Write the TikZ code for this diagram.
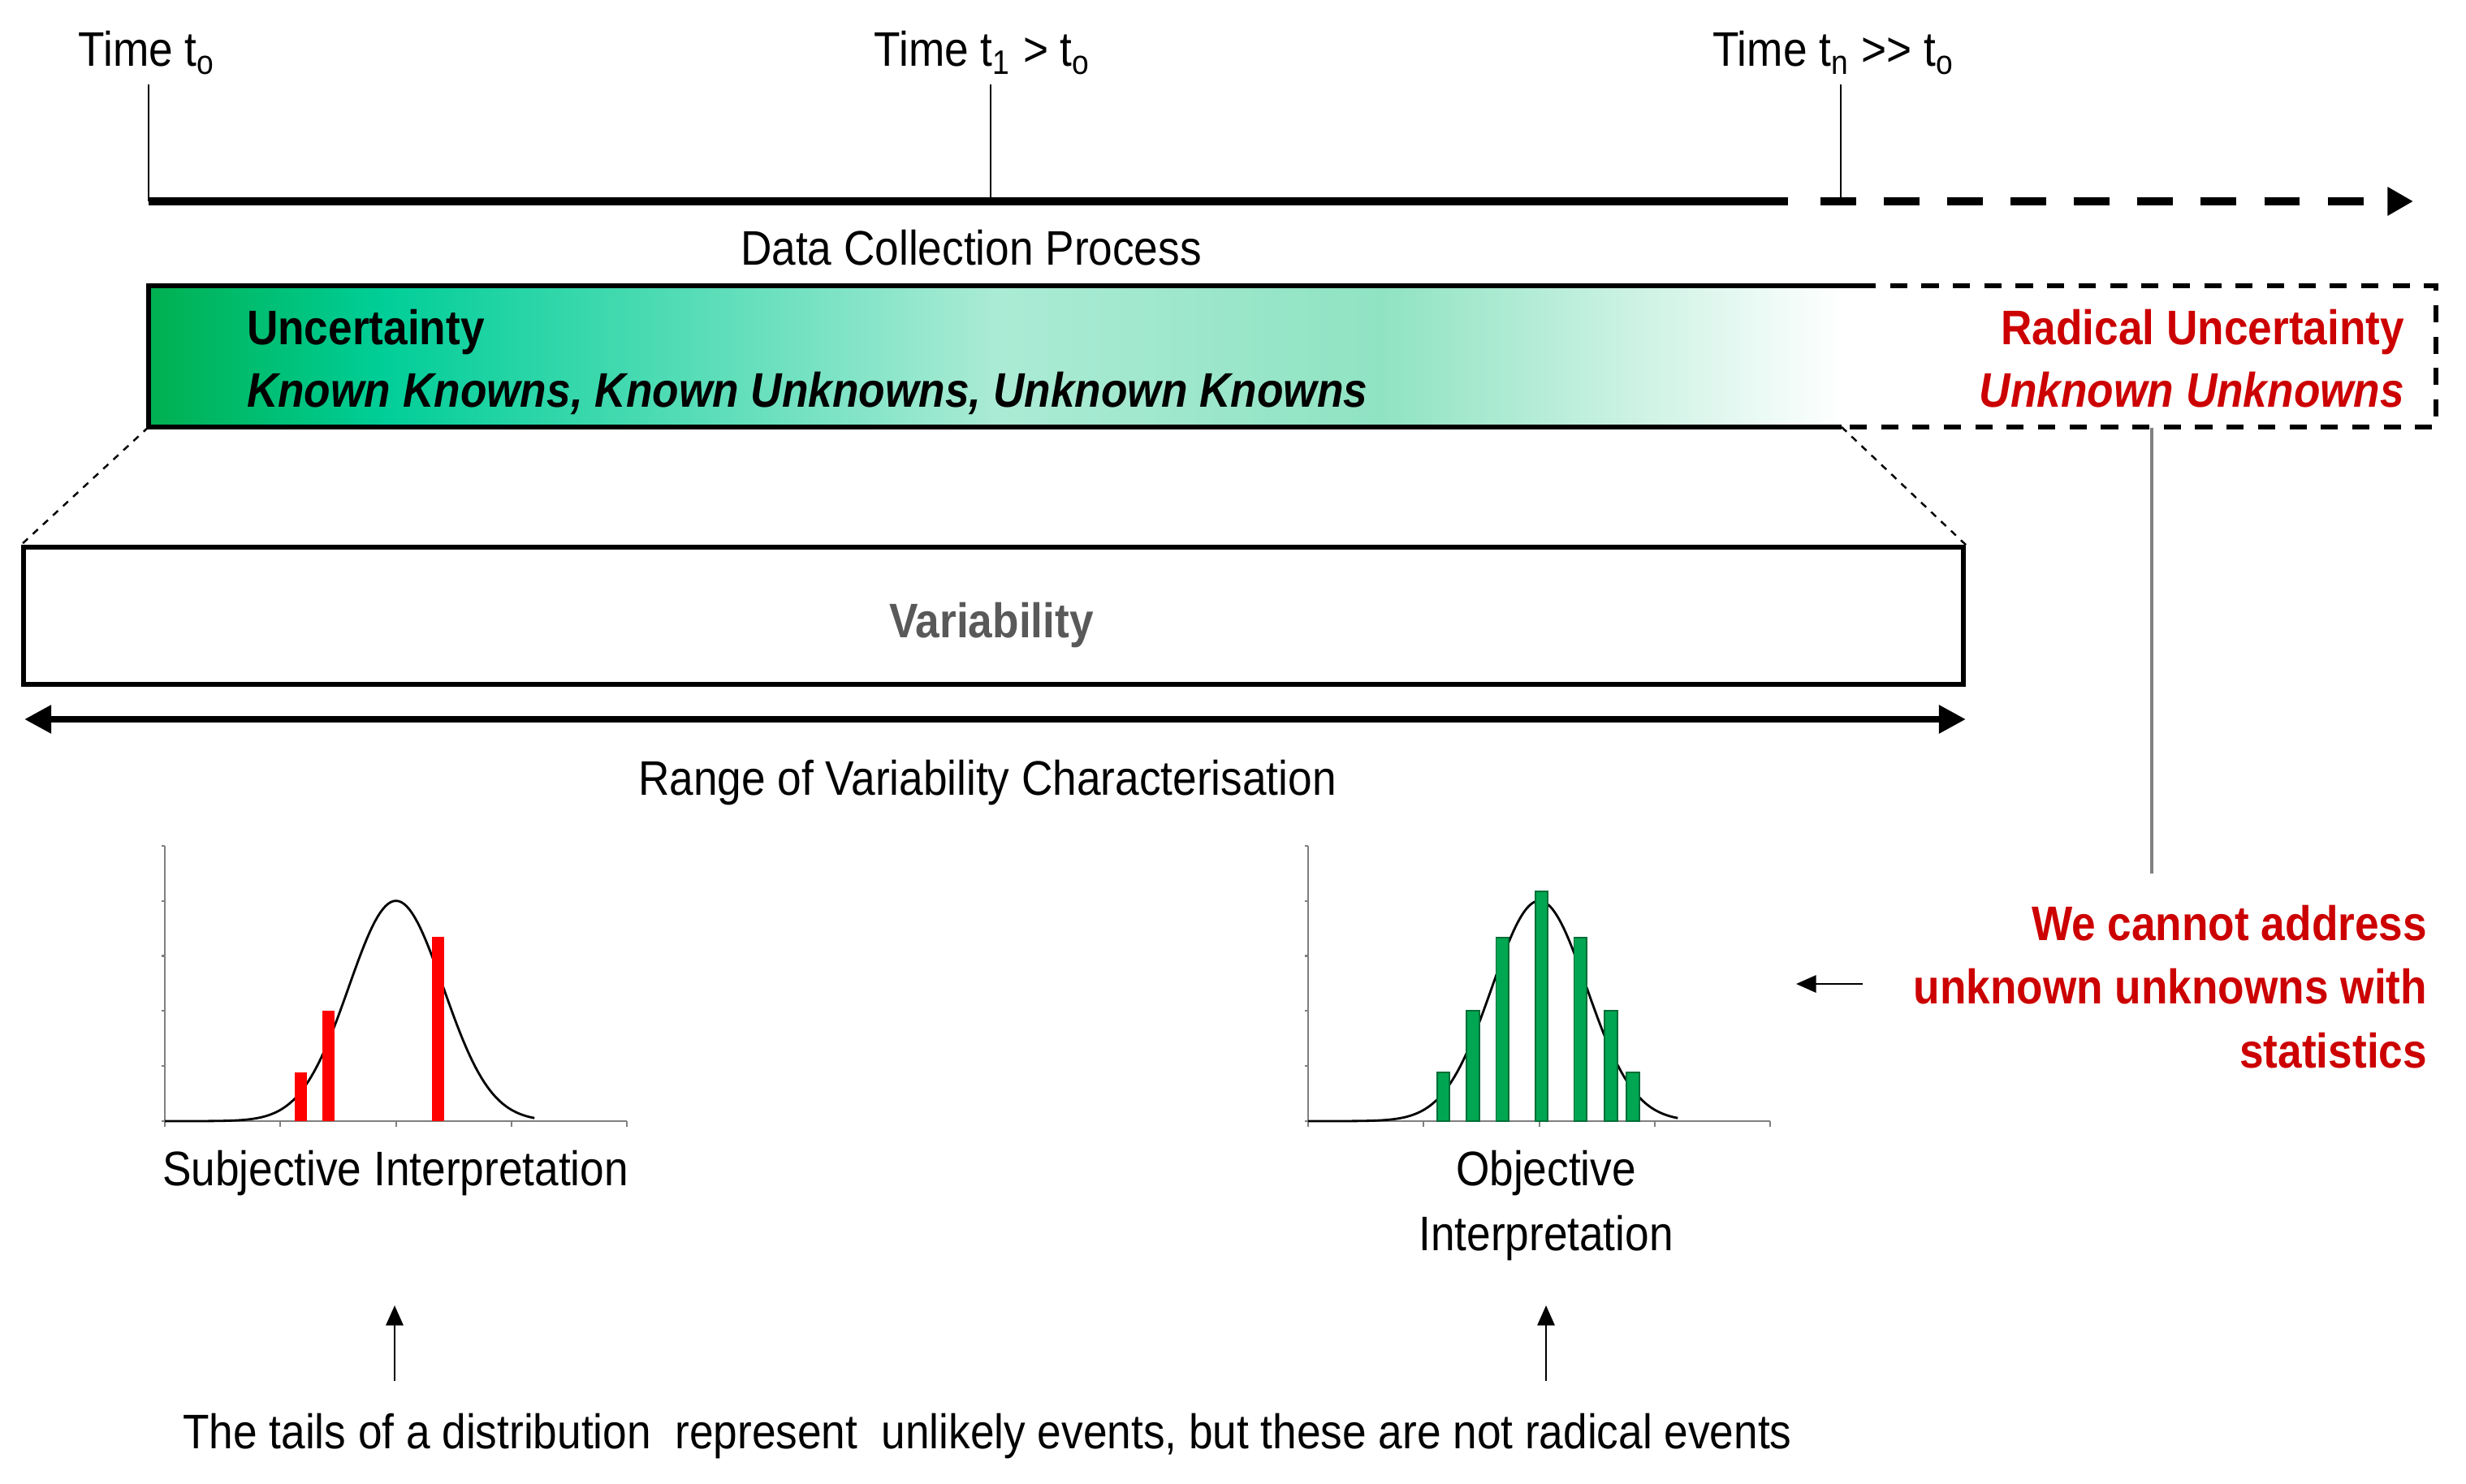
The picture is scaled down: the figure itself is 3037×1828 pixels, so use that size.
\documentclass[tikz,border=0pt]{standalone}
\usepackage{fontspec}
\setmainfont{Liberation Sans}[FakeStretch=0.89]
\usetikzlibrary{arrows.meta}
\definecolor{redtxt}{RGB}{204,0,0}
\definecolor{gA}{RGB}{0,176,80}
\definecolor{gB}{RGB}{0,206,152}
\definecolor{gC}{RGB}{171,235,213}
\definecolor{gD}{RGB}{143,227,195}
\definecolor{barred}{RGB}{255,0,0}
\definecolor{bargreen}{RGB}{0,166,81}
\definecolor{bargreenline}{RGB}{0,110,55}
\definecolor{axisgray}{RGB}{128,128,128}
\definecolor{vargray}{RGB}{89,89,89}
\newcommand{\distaxes}{%
  \draw[axisgray, line width=0.8pt] (0,5) -- (0,0) -- (4,0);
  \foreach \k in {0,...,5} \draw[axisgray, line width=0.6pt] (0,\k) -- (-0.03,\k);
  \foreach \k in {0,...,4} \draw[axisgray, line width=0.6pt] (\k,0) -- (\k,-0.1);
  \draw[line width=0.8pt] plot[domain=0:3.2, samples=140] (\x,{4*exp(-((\x-2)^2)/0.3362)});
}
\begin{document}
\begin{tikzpicture}[x=0.01cm, y=-0.01cm,
  font=\fontsize{17}{22}\selectfont,
  lbl/.style={inner sep=0pt, outer sep=0pt},
  boldlbl/.style={lbl, font=\fontsize{17}{22}\selectfont\bfseries},
  bilbl/.style={lbl, font=\fontsize{17}{22}\selectfont\bfseries\itshape},
  thick line/.style={line width=2.9pt},
  tickline/.style={line width=0.6pt},
  boxline/.style={line width=1.6pt},
  boxdash/.style={line width=1.6pt, dash pattern=on 6pt off 5pt},
  thindash/.style={line width=0.7pt, dash pattern=on 2.4pt off 2.4pt},
  smallarrow/.style={line width=0.8pt, -{Triangle[length=7pt,width=6pt]}},
  bigtip/.tip={Triangle[length=9.4pt,width=9.4pt]}
]
\useasboundingbox (0,0) rectangle (3037,1828);

% ---------- time line ----------
\coordinate (t0) at (183,248);
\coordinate (t1) at (1220,248);
\coordinate (tn) at (2267,248);
\coordinate (t0top) at (183,104);
\coordinate (t1top) at (1220,104);
\coordinate (tntop) at (2267,104);
\coordinate (tsolidend) at (2202,248);
\coordinate (tdash) at (2242,248);
\coordinate (tend) at (2972,248);

\node[lbl, anchor=base] (lt0) at (181,82) {Time t\textsubscript{o}};
\node[lbl, anchor=base] (lt1) at (1210,82) {Time t\textsubscript{1} > t\textsubscript{o}};
\node[lbl, anchor=base] (ltn) at (2258,82) {Time t\textsubscript{n} {>}{>} t\textsubscript{o}};

\draw[tickline] (t0top) -- (t0);
\draw[tickline] (t1top) -- (t1);
\draw[tickline] (tntop) -- (tn);
\draw[thick line] (t0) -- (tsolidend);
\draw[thick line, dash pattern=on 12.5pt off 9.7pt, -{Triangle[length=9pt,width=9.5pt]}] (tdash) -- (tend);

\node[lbl, anchor=base] (dcp) at (1196,327) {Data Collection Process};

% ---------- uncertainty box ----------
\fill[left color=gA, right color=gB] (183,352) rectangle (471,526);
\fill[left color=gB, right color=gC] (470,352) rectangle (1231,526);
\fill[left color=gC, right color=gD] (1230,352) rectangle (1701,526);
\fill[left color=gD, right color=white] (1700,352) rectangle (2272,526);

\coordinate (utl) at (183,352);
\coordinate (ubl) at (183,526);
\coordinate (utr) at (2289,352);
\coordinate (ubr) at (2268,526);
\coordinate (rtr) at (3000,352);
\coordinate (rbr) at (3000,526);
\draw[boxline] (utr) -- (utl) -- (ubl) -- (ubr);
\draw[boxdash] (utr) -- (rtr) -- (rbr) -- (ubr);

\node[boldlbl, anchor=base west] (unc) at (304,425) {Uncertainty};
\node[bilbl, anchor=base west] (kk) at (304,502) {Known Knowns, Known Unknowns, Unknown Knowns};
\node[boldlbl, anchor=base east, text=redtxt] (rad) at (2961,425) {Radical Uncertainty};
\node[bilbl, anchor=base east, text=redtxt] (uu) at (2961,502) {Unknown Unknowns};

% ---------- variability box ----------
\node[draw, boxline, inner sep=0pt, minimum width=23.88cm, minimum height=1.69cm] (var) at (1223.5,758.5) {};
\node[boldlbl, anchor=base, text=vargray] (varlbl) at (1221,785) {Variability};
\draw[thindash] (ubl) -- (var.north west);
\draw[thindash] (ubr) -- (var.north east);

\coordinate (rl) at (30,886);
\coordinate (rr) at (2421,886);
\draw[line width=2.3pt, bigtip-bigtip] (rl) -- (rr);
\node[lbl, anchor=base] (range) at (1216,979) {Range of Variability Characterisation};

% ---------- radical note ----------
\coordinate (gtop) at (2650,527);
\coordinate (gbot) at (2650,1076);
\draw[axisgray, line width=1pt] (gtop) -- (gbot);
\node[boldlbl, anchor=base east, text=redtxt] (w1) at (2989,1158) {We cannot address};
\node[boldlbl, anchor=base east, text=redtxt] (w2) at (2989,1236) {unknown unknowns with};
\node[boldlbl, anchor=base east, text=redtxt] (w3) at (2989,1315) {statistics};
\coordinate (sa1) at (2294,1212);
\coordinate (sa2) at (2212,1212);
\draw[smallarrow] (sa1) -- (sa2);

% ---------- left chart ----------
\begin{scope}[shift={(203,1381)}, x=1.4225cm, y=0.678cm]
  \distaxes
  \fill[barred] (1.122,0) rectangle (1.230,0.89);
  \fill[barred] (1.361,0) rectangle (1.469,2.0);
  \fill[barred] (2.310,0) rectangle (2.418,3.34);
\end{scope}
% ---------- right chart ----------
\begin{scope}[shift={(1611,1381)}, x=1.4225cm, y=0.678cm]
  \distaxes
  \foreach \c/\h in {1.17/0.89, 1.426/2.0, 1.68/3.33, 2.02/4.17, 2.355/3.33, 2.62/2.0, 2.81/0.89}
    \filldraw[fill=bargreen, draw=bargreenline, line width=0.5pt] (\c-0.054,0) rectangle (\c+0.054,\h);
\end{scope}

\node[lbl, anchor=base] (subj) at (487,1460) {Subjective Interpretation};
\node[lbl, anchor=base] (obj1) at (1904,1460) {Objective};
\node[lbl, anchor=base] (obj2) at (1904,1540) {Interpretation};

\coordinate (ua1b) at (486,1701);
\coordinate (ua1t) at (486,1608);
\coordinate (ua2b) at (1904,1701);
\coordinate (ua2t) at (1904,1608);
\draw[smallarrow] (ua1b) -- (ua1t);
\draw[smallarrow] (ua2b) -- (ua2t);

\node[lbl, anchor=base] (tails) at (1216,1784) {The tails of a distribution\ \ represent\ \ unlikely events, but these are not radical events};
\end{tikzpicture}
\end{document}
